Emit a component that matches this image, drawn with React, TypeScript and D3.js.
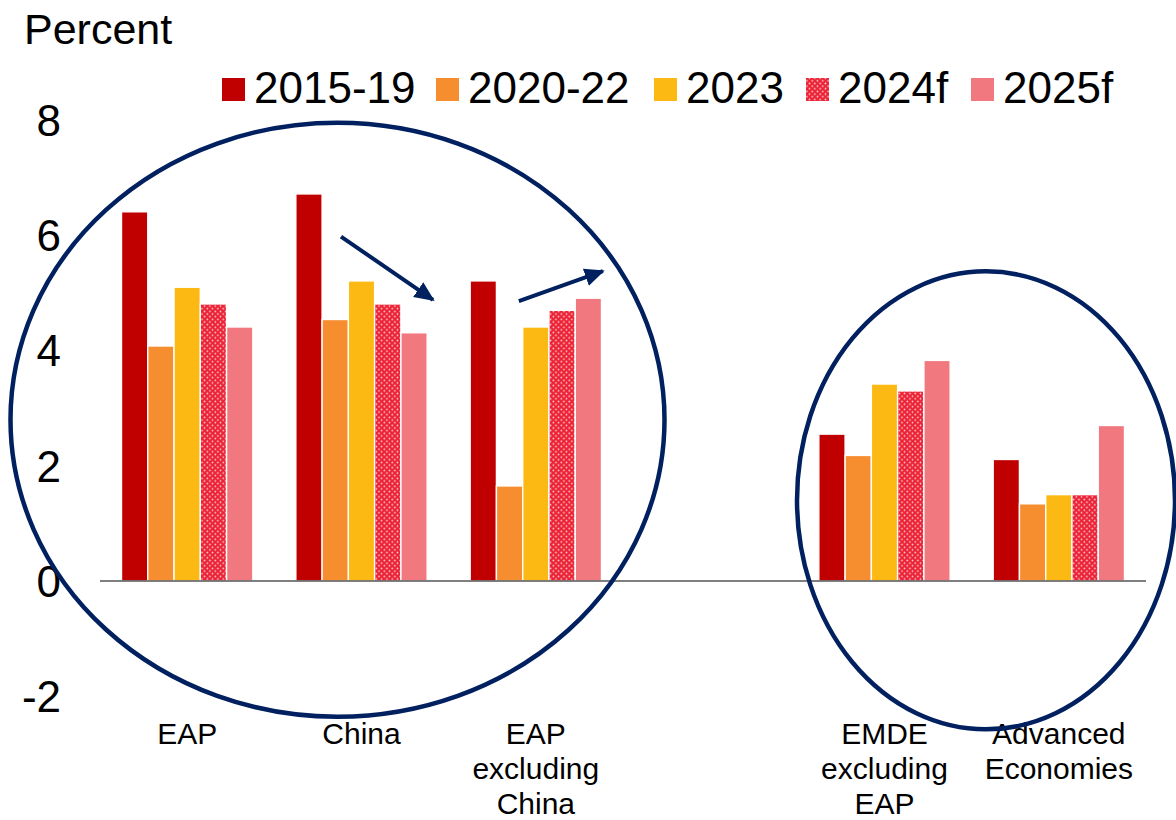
import React from "react";
import * as d3 from "d3";

const categories = ["EAP", "China", "EAP excluding China", "", "EMDE excluding EAP", "Advanced Economies"];
const categoryLines = [["EAP"], ["China"], ["EAP", "excluding", "China"], [], ["EMDE", "excluding", "EAP"], ["Advanced", "Economies"]];
const seriesNames = ["2015-19", "2020-22", "2023", "2024f", "2025f"];
const s2015_19 = [6.41, 6.72, 5.21, null, 2.55, 2.11];
const s2020_22 = [4.08, 4.54, 1.65, null, 2.18, 1.34];
const s2023 = [5.10, 5.21, 4.41, null, 3.42, 1.50];
const s2024f = [4.81, 4.81, 4.70, null, 3.30, 1.50];
const s2025f = [4.41, 4.31, 4.91, null, 3.83, 2.70];
const seriesValues = [s2015_19, s2020_22, s2023, s2024f, s2025f];
const yTicks = [-2, 0, 2, 4, 6, 8];

const colors = ["#C00000", "#F68D2E", "#FDB913", "url(#dots)", "#F27880"];
const legendColors = ["#C00000", "#F68D2E", "#FDB913", "url(#dotsL)", "#F27880"];
const FONT = "'Liberation Sans', Arial, sans-serif";
const NAVY = "#002060";

export default function App() {
  const x0 = d3.scaleBand<string>().domain(categories.map((c, i) => String(i))).range([100, 1146]).padding(0);
  const bw = x0.bandwidth();
  const x1 = d3.scaleBand<string>().domain(seriesNames).range([21.5, bw - 21.5]).padding(0);
  const y = d3.scaleLinear().domain([-2, 8]).range([696.2, 120.2]);
  const cx = (i: number) => (x0(String(i)) as number) + bw / 2;

  const legendX = [222, 436, 654, 806, 971];

  return (
    <svg width={1176} height={820} style={{ position: "absolute", left: 0, top: 0, background: "#fff" }} fontFamily={FONT}>
      <defs>
        <pattern id="dots" width={5.3} height={5.3} patternUnits="userSpaceOnUse">
          <rect width={5.3} height={5.3} fill="#EC2336" />
          <circle cx={1.3} cy={1.3} r={0.8} fill="#fff" opacity={0.85} />
          <circle cx={3.95} cy={3.95} r={0.8} fill="#fff" opacity={0.85} />
        </pattern>
        <pattern id="dotsL" width={5.3} height={5.3} patternUnits="userSpaceOnUse">
          <rect width={5.3} height={5.3} fill="#EC2336" />
          <circle cx={1.3} cy={1.3} r={0.8} fill="#fff" opacity={0.85} />
          <circle cx={3.95} cy={3.95} r={0.8} fill="#fff" opacity={0.85} />
        </pattern>
        <marker id="arrow" markerUnits="userSpaceOnUse" markerWidth={22} markerHeight={20} refX={18} refY={9} orient="auto" viewBox="0 0 22 18">
          <path d="M0,0 L20,9 L0,18 Z" fill={NAVY} />
        </marker>
      </defs>

      <text x={24} y={44} fontSize={43} fill="#000">Percent</text>

      {seriesNames.map((s, i) => (
        <g key={s}>
          <rect x={legendX[i]} y={78} width={23} height={23} fill={legendColors[i]} />
          <text x={legendX[i] + 32} y={103} fontSize={44} fill="#000">{s}</text>
        </g>
      ))}

      {yTicks.map((t) => (
        <text key={t} x={61} y={y(t)} dy="0.36em" textAnchor="end" fontSize={44} fill="#000">{t}</text>
      ))}

      {categories.map((c, ci) => (
        <g key={ci} transform={`translate(${x0(String(ci))},0)`}>
          {seriesNames.map((s, si) => {
            const v = seriesValues[si][ci];
            if (v === null || v === undefined) return null;
            const top = y(Math.max(0, v));
            const h = Math.abs(y(v) - y(0));
            return (
              <rect key={s} x={x1(s)} y={top} width={x1.bandwidth()} height={h}
                fill={colors[si]} stroke="#fff" strokeWidth={1.4} />
            );
          })}
        </g>
      ))}

      <line x1={100} x2={1146} y1={y(0)} y2={y(0)} stroke="#555" strokeWidth={1.6} />

      {categoryLines.map((lines, ci) => (
        <text key={ci} x={cx(ci)} textAnchor="middle" fontSize={30} fill="#000">
          {lines.map((l, li) => (
            <tspan key={li} x={cx(ci)} y={744 + li * 35}>{l}</tspan>
          ))}
        </text>
      ))}

      <ellipse cx={cx(1) - 24} cy={y(2.8)} rx={327} ry={297} fill="none" stroke={NAVY} strokeWidth={4.5} />
      <ellipse cx={cx(4) + 101.5} cy={y(1.4)} rx={189} ry={229} fill="none" stroke={NAVY} strokeWidth={4.5} />

      <line x1={cx(1) - 20.5} y1={y(5.98)} x2={cx(1) + 71.5} y2={y(4.88)} stroke={NAVY} strokeWidth={4} markerEnd="url(#arrow)" />
      <line x1={cx(2) - 17} y1={y(4.86)} x2={cx(2) + 67} y2={y(5.38)} stroke={NAVY} strokeWidth={4} markerEnd="url(#arrow)" />
    </svg>
  );
}
